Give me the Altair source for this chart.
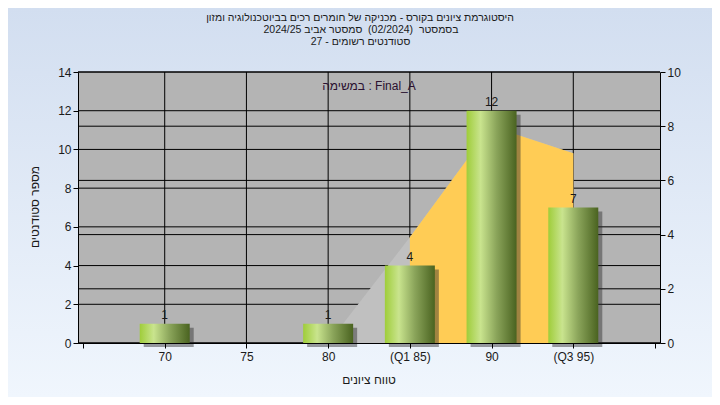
import altair as alt
import pandas as pd

# ---------------- data ----------------
grades = [70, 75, 80, 85, 90, 95]
counts = [1, 0, 1, 4, 12, 7]
tick_labels = ["70", "75", "80", "(Q1 85)", "90", "(Q3 95)"]

curve_x = [65, 70, 75, 80, 85, 90, 95]
curve_v = [0, 0, 0, 0, 3.9, 8.0, 7.0]
iqr_x = [85, 90, 95]
iqr_v = [3.9, 8.0, 7.0]

left_ticks = [0, 2, 4, 6, 8, 10, 12, 14]
right_ticks = [0, 2, 4, 6, 8, 10]
x_ticks = [65, 70, 75, 80, 85, 90, 95, 100]

title_lines = [
    "היסטוגרמת ציונים בקורס - מכניקה של חומרים רכים בביוטכנולוגיה ומזון",
    "בסמסטר  (02/2024)  סמסטר אביב 2024/25",
    "סטודנטים רשומים - 27",
]
note_text = "במשימה : Final_A"
y_title = "מספר סטודנטים"
x_title = "טווח ציונים"

# ---------------- layout ----------------
W, H = 582, 271
PADL, PADT, PADR, PADB = 70, 64, 52, 54
FONT = "Liberation Sans"
TXT = "#1a1a1a"


def keep_spaces(s):
    # SVG collapses repeated spaces; keep the wide gaps of the reference
    return s.replace("  ", " \u00a0")


one = pd.DataFrame({"k": [0]})
bars_df = pd.DataFrame({"g": grades, "n": counts})
curve_df = pd.DataFrame({"g": curve_x, "v": curve_v})
iqr_df = pd.DataFrame({"g": iqr_x, "v": iqr_v})
lgrid_df = pd.DataFrame({"t": left_ticks})
rgrid_df = pd.DataFrame({"v": right_ticks})
xgrid_df = pd.DataFrame({"g": grades})

label_map = dict(zip(grades, tick_labels))
expr = "''"
for g in reversed(grades):
    expr = f"datum.value == {g} ? '{label_map[g]}' : ({expr})"

axis_common = dict(domainColor="black", tickColor="black", labelColor=TXT,
                   labelFont=FONT, labelFontSize=12, zindex=1, domainWidth=1,
                   tickWidth=1, tickSize=5, grid=False, title=None)

X = alt.X(
    "g:Q",
    scale=alt.Scale(domain=[65, 100], nice=False, zero=False),
    axis=alt.Axis(values=x_ticks, labelExpr=expr, labelPadding=3, **axis_common),
)
YL = alt.Y(
    "n:Q",
    scale=alt.Scale(domain=[0, 14], nice=False),
    axis=alt.Axis(orient="left", values=left_ticks, labelPadding=2, **axis_common),
)
YR = alt.Y(
    "v:Q",
    scale=alt.Scale(domain=[0, 10], nice=False),
    axis=alt.Axis(orient="right", values=right_ticks, labelPadding=2, **axis_common),
)

bg_grad = {"gradient": "linear", "x1": 0, "y1": 0, "x2": 0, "y2": 1,
           "stops": [{"offset": 0, "color": "#d2def0"},
                     {"offset": 1, "color": "#f0f6fd"}]}
bar_grad = {"gradient": "linear", "x1": 0, "y1": 0, "x2": 1, "y2": 0,
            "stops": [{"offset": 0, "color": "#9fcd3a"},
                      {"offset": 0.28, "color": "#c9e48e"},
                      {"offset": 0.6, "color": "#8aa45a"},
                      {"offset": 1, "color": "#4a6320"}]}

bg = alt.Chart(one).mark_rect(fill=bg_grad).encode(
    x=alt.value(-PADL), x2=alt.value(W + PADR),
    y=alt.value(-PADT), y2=alt.value(H + PADB))

plotbg = alt.Chart(one).mark_rect(fill="#b4b4b4").encode(
    x=alt.value(0), x2=alt.value(W), y=alt.value(0), y2=alt.value(H))

xgrid = alt.Chart(xgrid_df).mark_rule(color="black", strokeWidth=1).encode(x=X)

lgrid = alt.Chart(lgrid_df).mark_rule(color="black", strokeWidth=1).encode(
    y=alt.Y("t:Q", scale=alt.Scale(domain=[0, 14], nice=False), axis=None))

right_layer = alt.layer(
    alt.Chart(rgrid_df).mark_rule(color="black", strokeWidth=1).encode(y=YR),
    alt.Chart(curve_df).mark_area(color="#c0c0c0", opacity=1).encode(x=X, y=YR),
    alt.Chart(iqr_df).mark_area(color="#ffcc55", opacity=1).encode(x=X, y=YR),
)

left_layer = alt.layer(
    alt.Chart(bars_df).mark_bar(size=50, xOffset=4, yOffset=4, color="#2a2a2a",
                                opacity=0.45).encode(x=X, y=YL),
    alt.Chart(bars_df).mark_bar(size=50, fill=bar_grad).encode(x=X, y=YL),
    alt.Chart(bars_df).transform_filter("datum.n > 0").mark_text(
        dy=-9, font=FONT, fontSize=12, color=TXT).encode(x=X, y=YL, text="n:Q"),
)


def label(text, x, y, size=10.5, color=TXT, angle=None):
    kw = dict(font=FONT, fontSize=size, color=color, align="center", baseline="middle")
    if angle is not None:
        kw["angle"] = angle
    return alt.Chart(one).mark_text(**kw).encode(
        x=alt.value(x), y=alt.value(y), text=alt.value(keep_spaces(text)))


texts = [
    label(title_lines[0], 282, -54.3),
    label(title_lines[1], 283, -42),
    label(title_lines[2], 282.5, -30.3),
    label(note_text, 291, 14, size=12, color="#2a1030"),
    label(y_title, -43, 135, size=12, angle=270),
    label(x_title, 291, 308, size=12),
]

chart = alt.layer(bg, plotbg, xgrid, lgrid, right_layer, left_layer, *texts).resolve_scale(
    y="independent"
).properties(
    width=W, height=H,
    padding={"left": PADL, "top": PADT, "right": PADR, "bottom": PADB},
    autosize=alt.AutoSizeParams(type="none"),
    background="#eef4fb",
).configure_view(stroke=None)

chart.save("out.html", embed_options={"renderer": "svg", "actions": False})
